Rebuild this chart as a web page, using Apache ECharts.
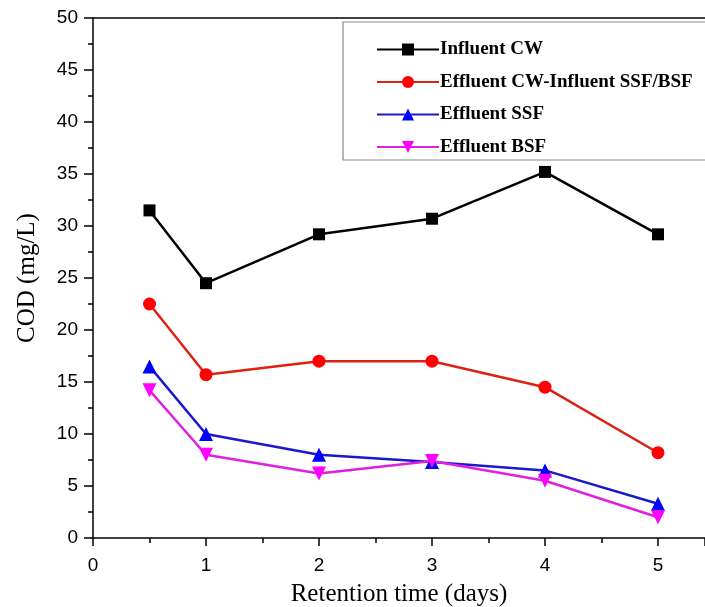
<!DOCTYPE html>
<html><head><meta charset="utf-8">
<script src="https://cdn.jsdelivr.net/npm/echarts@6/dist/echarts.min.js"></script>
<style>html,body{margin:0;padding:0;background:#fff}#c{width:705px;height:607px}</style>
</head><body><div id="c"></div>
<script>
const days = [0.5, 1, 2, 3, 4, 5];
const influentCW = [31.5, 24.5, 29.2, 30.7, 35.2, 29.2];
const effluentCW = [22.5, 15.7, 17.0, 17.0, 14.5, 8.2];
const effluentSSF = [16.5, 10.0, 8.0, 7.3, 6.5, 3.3];
const effluentBSF = [14.2, 8.0, 6.2, 7.4, 5.5, 2.0];
const seriesNames = ['Influent CW', 'Effluent CW-Influent SSF/BSF', 'Effluent SSF', 'Effluent BSF'];
const xTicks = [0, 1, 2, 3, 4, 5];
const yTicks = [0, 5, 10, 15, 20, 25, 30, 35, 40, 45, 50];

const pair = arr => days.map((d, i) => [d, arr[i]]);
const chart = echarts.init(document.getElementById('c'));
const mk = (name, data, color, lineColor, symbol, size) => ({
  name, type: 'line', data: pair(data), symbol, symbolSize: size,
  lineStyle: { color: lineColor, width: 2.5 },
  itemStyle: { color: color },
  z: 3
});
const axisLineStyle = { color: '#000', width: 1.5 };
chart.setOption({
  animation: false,
  grid: { left: 93, top: 18, right: 0, bottom: 69, show: false, containLabel: false, outerBoundsMode: 'none' },
  graphic: [{
    type: 'rect', shape: { x: 343, y: 22, width: 380, height: 138 },
    style: { fill: '#fff', stroke: '#888', lineWidth: 1.2 }, z: 10
  }],
  legend: {
    orient: 'vertical', left: 371, top: 35, itemWidth: 62, itemHeight: 15, itemGap: 13.5,
    textStyle: { fontFamily: 'Liberation Serif', fontWeight: 'bold', fontSize: 19, color: '#000', padding: [0, 0, 0, -4] },
    data: seriesNames, z: 11
  },
  xAxis: [{
    type: 'value', min: 0, max: 5.416, interval: 1,
    axisLine: { lineStyle: axisLineStyle },
    axisTick: { inside: false, length: 8, lineStyle: axisLineStyle },
    minorTick: { show: true, splitNumber: 2, length: 5, lineStyle: axisLineStyle },
    splitLine: { show: false },
    axisLabel: { fontFamily: 'Liberation Sans', fontSize: 19, color: '#000', margin: 18,
      formatter: v => xTicks.includes(v) ? String(v) : '' },
    name: 'Retention time (days)', nameLocation: 'middle', nameGap: 44,
    nameTextStyle: { fontFamily: 'Liberation Serif', fontSize: 25, color: '#000' }
  }, {
    type: 'value', min: 0, max: 5.416, position: 'top',
    axisLine: { show: true, onZero: false, lineStyle: axisLineStyle },
    axisTick: { show: false }, axisLabel: { show: false }, splitLine: { show: false }
  }],
  yAxis: {
    type: 'value', min: 0, max: 50, interval: 5,
    axisLine: { lineStyle: axisLineStyle },
    axisTick: { inside: false, length: 9, lineStyle: axisLineStyle },
    minorTick: { show: true, splitNumber: 2, length: 5, lineStyle: axisLineStyle },
    splitLine: { show: false },
    axisLabel: { fontFamily: 'Liberation Sans', fontSize: 19, color: '#000', margin: 15,
      formatter: v => yTicks.includes(v) ? String(v) : '' },
    name: 'COD (mg/L)', nameLocation: 'middle', nameGap: 53, nameRotate: 90,
    nameTextStyle: { fontFamily: 'Liberation Serif', fontSize: 25, color: '#000' }
  },
  series: [
    mk(seriesNames[0], influentCW, '#000', '#000', 'rect', 12),
    mk(seriesNames[1], effluentCW, '#ff0000', '#dd2211', 'circle', 13),
    mk(seriesNames[2], effluentSSF, '#0000ff', '#1a1acc', 'triangle', 14),
    mk(seriesNames[3], effluentBSF, '#ff00ff', '#e020e0', 'path://M0,0 L10,0 L5,9 Z', 14)
  ]
});
</script></body></html>
